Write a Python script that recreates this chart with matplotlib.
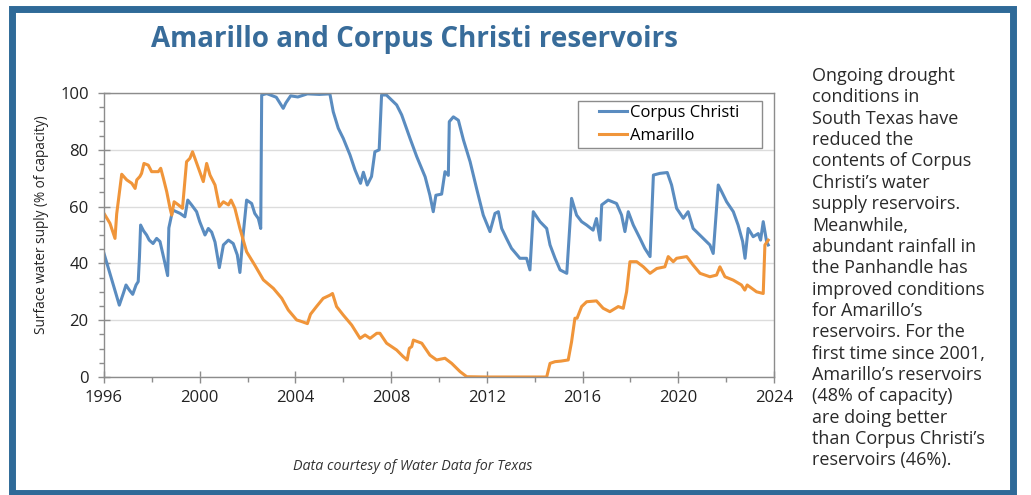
import matplotlib.pyplot as plt
from matplotlib.patches import Rectangle
from matplotlib.ticker import MultipleLocator

# Corpus Christi, % of capacity (decimal year, value)
cc_years = [1996.0, 1996.64, 1996.81, 1996.92, 1997.06, 1997.2, 1997.34, 1997.43, 1997.48, 1997.53,
            1997.65, 1997.78, 1997.89, 1998.05, 1998.2, 1998.34, 1998.5, 1998.66, 1998.71, 1998.87,
            1999.18, 1999.38, 1999.5, 1999.66, 1999.87, 2000.0, 2000.22, 2000.36, 2000.5, 2000.64,
            2000.82, 2000.99, 2001.2, 2001.4, 2001.57, 2001.68, 2001.8, 2001.96, 2002.17, 2002.3,
            2002.45, 2002.55, 2002.59, 2002.8, 2003.2, 2003.49, 2003.6, 2003.8, 2004.1, 2004.5,
            2005.0, 2005.44, 2005.58, 2005.79, 2006.0, 2006.28, 2006.49, 2006.72, 2006.84, 2007.0,
            2007.18, 2007.32, 2007.5, 2007.6, 2007.8, 2008.23, 2008.44, 2008.79, 2009.07, 2009.42,
            2009.62, 2009.76, 2009.87, 2010.11, 2010.25, 2010.39, 2010.43, 2010.6, 2010.81, 2011.02,
            2011.3, 2011.57, 2011.85, 2012.13, 2012.34, 2012.48, 2012.62, 2012.82, 2013.03, 2013.38,
            2013.66, 2013.8, 2013.94, 2014.22, 2014.5, 2014.64, 2014.85, 2015.06, 2015.34, 2015.54,
            2015.75, 2015.96, 2016.17, 2016.44, 2016.58, 2016.73, 2016.8, 2017.07, 2017.42, 2017.63,
            2017.77, 2017.91, 2018.12, 2018.4, 2018.6, 2018.82, 2018.96, 2019.23, 2019.54, 2019.72,
            2019.93, 2020.21, 2020.41, 2020.62, 2021.04, 2021.32, 2021.46, 2021.67, 2021.81, 2022.02,
            2022.3, 2022.5, 2022.69, 2022.79, 2022.92, 2023.13, 2023.34, 2023.44, 2023.55, 2023.69,
            2023.76]
cc_values = [43.5, 25.3, 29.5, 32.4, 30.6, 29.1, 32.4, 33.6, 41.9, 53.5,
             51.5, 50.0, 48.2, 47.0, 48.8, 47.7, 41.8, 35.7, 52.5, 58.8,
             57.6, 56.4, 62.3, 60.6, 58.2, 54.7, 50.0, 52.3, 51.0, 47.5,
             38.5, 46.5, 48.2, 47.0, 43.0, 36.8, 48.8, 62.3, 61.1, 57.6,
             55.8, 52.3, 99.3, 99.8, 98.5, 94.6, 96.5, 99.0, 98.6, 99.7,
             99.5, 99.7, 93.4, 87.6, 84.0, 78.2, 72.9, 68.2, 72.1, 67.6,
             70.6, 79.3, 80.0, 99.3, 99.3, 95.8, 92.3, 84.0, 77.6, 70.5,
             64.0, 58.2, 64.0, 64.4, 72.3, 71.0, 89.9, 91.6, 90.4, 83.5,
             75.8, 66.4, 57.0, 51.2, 57.6, 58.2, 52.3, 48.8, 45.3, 41.8,
             41.8, 37.7, 58.2, 54.7, 52.3, 46.5, 41.8, 37.7, 36.5, 62.9,
             57.0, 54.7, 53.5, 51.7, 55.8, 48.2, 60.6, 62.3, 61.1, 57.0,
             51.2, 58.2, 53.5, 48.8, 45.3, 42.4, 71.1, 71.7, 72.0, 67.6,
             59.4, 55.9, 58.2, 52.3, 48.8, 46.5, 43.5, 67.6, 65.3, 61.7,
             58.2, 53.5, 47.7, 41.8, 52.3, 49.4, 50.5, 48.2, 54.7, 47.7,
             46.5]

# Amarillo, % of capacity (decimal year, value)
am_years = [1996.0, 1996.25, 1996.46, 1996.53, 1996.74, 1996.95, 1997.16, 1997.3, 1997.37, 1997.5,
            1997.57, 1997.67, 1997.85, 1997.99, 1998.27, 1998.37, 1998.48, 1998.62, 1998.76, 1998.83,
            1998.93, 1999.11, 1999.28, 1999.45, 1999.59, 1999.7, 1999.8, 2000.0, 2000.15, 2000.29,
            2000.43, 2000.64, 2000.82, 2000.99, 2001.2, 2001.31, 2001.47, 2001.68, 2001.96, 2002.3,
            2002.66, 2003.08, 2003.43, 2003.7, 2004.05, 2004.27, 2004.5, 2004.63, 2004.88, 2005.16,
            2005.44, 2005.55, 2005.72, 2006.0, 2006.35, 2006.7, 2006.91, 2007.12, 2007.4, 2007.53,
            2007.81, 2008.23, 2008.5, 2008.67, 2008.76, 2008.86, 2008.93, 2009.28, 2009.62, 2009.9,
            2010.25, 2010.53, 2010.88, 2011.16, 2012.0, 2013.0, 2014.0, 2014.5, 2014.64, 2014.85,
            2015.1, 2015.4, 2015.54, 2015.68, 2015.77, 2015.96, 2016.17, 2016.58, 2016.86, 2017.14,
            2017.49, 2017.7, 2017.84, 2017.98, 2018.26, 2018.54, 2018.82, 2019.1, 2019.44, 2019.58,
            2019.79, 2019.93, 2020.35, 2020.62, 2020.91, 2021.32, 2021.6, 2021.74, 2021.95, 2022.3,
            2022.64, 2022.78, 2022.88, 2023.27, 2023.55, 2023.62, 2023.76]
am_values = [57.6, 54.1, 48.8, 57.4, 71.4, 69.4, 68.2, 66.4, 69.4, 70.6,
             71.7, 75.2, 74.6, 72.3, 72.3, 73.5, 70.0, 65.3, 59.4, 57.0,
             61.7, 60.6, 59.4, 75.8, 77.0, 79.3, 77.0, 72.3, 68.8, 75.2,
             71.1, 67.6, 60.0, 61.7, 60.6, 62.3, 59.4, 52.3, 44.1, 39.4,
             34.2, 31.2, 27.7, 23.6, 20.1, 19.5, 18.8, 22.1, 24.8, 27.7,
             28.8, 29.4, 24.8, 21.8, 18.3, 13.6, 14.8, 13.6, 15.4, 15.4,
             11.9, 9.5, 7.2, 6.0, 10.1, 10.7, 13.0, 11.9, 7.7, 6.0,
             6.6, 4.8, 1.9, 0.1, 0.0, 0.0, 0.0, 0.0, 4.8, 5.4,
             5.6, 6.0, 12.4, 20.7, 20.7, 24.8, 26.5, 26.8, 24.2, 23.0,
             24.8, 24.2, 30.0, 40.6, 40.6, 38.8, 36.5, 38.2, 38.8, 42.4,
             40.6, 41.8, 42.4, 39.4, 36.5, 35.3, 35.9, 38.8, 35.3, 34.1,
             32.4, 30.6, 32.4, 30.0, 29.4, 46.5, 48.2]

series_names = ["Corpus Christi", "Amarillo"]
x_ticks = [1996, 2000, 2004, 2008, 2012, 2016, 2020, 2024]
y_ticks = [0, 20, 40, 60, 80, 100]

note = ("Ongoing drought\nconditions in\nSouth Texas have\nreduced the\n"
        "contents of Corpus\nChristi\u2019s water\nsupply reservoirs.\nMeanwhile,\n"
        "abundant rainfall in\nthe Panhandle has\nimproved conditions\nfor Amarillo\u2019s\n"
        "reservoirs. For the\nfirst time since 2001,\nAmarillo\u2019s reservoirs\n"
        "(48% of capacity)\nare doing better\nthan Corpus Christi\u2019s\nreservoirs (46%).")

blue = "#5a8cc0"
orange = "#f0953a"
frame_blue = "#2f6a98"
gray = "#8c8c8c"

plt.rcParams['font.family'] = ['Open Sans', 'DejaVu Sans']

W, H = 1031, 495
fig = plt.figure(figsize=(W / 100, H / 100), dpi=100)
fig.patch.set_facecolor("white")

# outer frame
fig.patches.append(Rectangle((11.5 / W, 1 - 492.5 / H), (1013 - 11.5) / W, (492.5 - 8.5) / H,
                             transform=fig.transFigure, fill=False, ec=frame_blue, lw=5))

ax = fig.add_axes([104 / W, 1 - 377 / H, (774 - 104) / W, (377 - 93) / H])
ax.plot(cc_years, cc_values, color=blue, lw=2.2, label=series_names[0], solid_joinstyle="round")
ax.plot(am_years, am_values, color=orange, lw=2.2, label=series_names[1], solid_joinstyle="round")

ax.set_xlim(1996, 2024)
ax.set_ylim(0, 100)
ax.set_xticks(x_ticks)
ax.set_yticks(y_ticks)
ax.xaxis.set_minor_locator(MultipleLocator(2))
ax.yaxis.set_minor_locator(MultipleLocator(5))
ax.grid(axis="y", which="major", color="#dcdcdc", lw=1.0)
ax.set_axisbelow(True)
for s in ax.spines.values():
    s.set_color(gray)
    s.set_linewidth(1.0)
ax.tick_params(which="major", direction="inout", length=8, width=1, color=gray,
               labelsize=12, labelcolor="#222222")
ax.tick_params(which="minor", direction="out", length=3.5, width=1, color=gray)
ax.tick_params(axis="x", which="major", pad=5)
ax.tick_params(axis="y", which="major", pad=7)

ax.set_ylabel("Surface water suply (% of capacity)", fontsize=9.8, color="#222222")
ax.yaxis.set_label_coords((49 - 104) / 670, (377 - 225) / 284)

# legend without its own frame; box drawn separately to match the padding
leg = ax.legend(loc="upper left", bbox_to_anchor=(599 / W, 1 - 105 / H),
                bbox_transform=fig.transFigure, fontsize=12, frameon=False,
                handlelength=1.7, handletextpad=0.15, borderpad=0, borderaxespad=0,
                labelspacing=0.42)
fig.patches.append(Rectangle((578 / W, 1 - 148 / H), (762 - 578) / W, (148 - 101) / H,
                             transform=fig.transFigure, fill=False, ec=gray, lw=1.0, zorder=5))

fig.text(414 / W, 1 - 40 / H, "Amarillo and Corpus Christi reservoirs", ha="center", va="center",
         fontsize=20, fontweight="bold", color="#386c9a")
fig.text(413 / W, 1 - 467 / H, "Data courtesy of Water Data for Texas", ha="center", va="center",
         fontsize=10.3, style="italic", color="#333333")
fig.text(812 / W, 1 - 67 / H, note, ha="left", va="top", fontsize=13, color="#2a2a2a",
         linespacing=1.24)

fig.savefig("out.png", dpi=100)
